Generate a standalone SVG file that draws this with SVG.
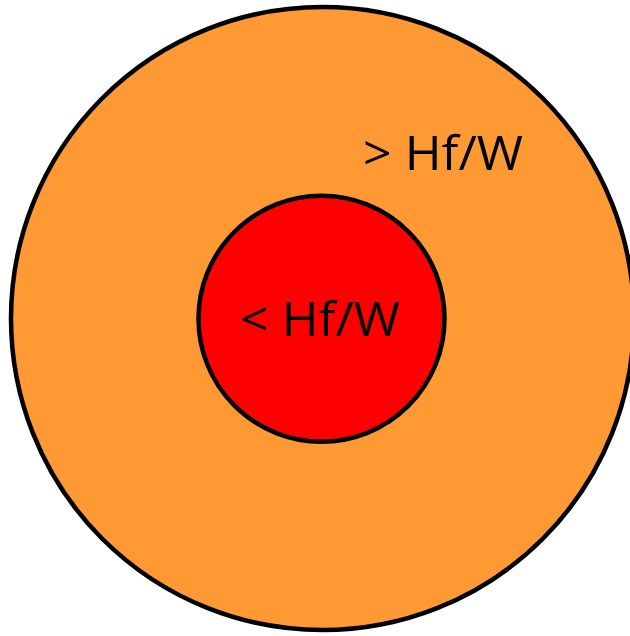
<svg xmlns="http://www.w3.org/2000/svg" width="630" height="636" viewBox="0 0 630 636">
<style>
.c{stroke:#000;stroke-width:4.5}
.t{font-family:"Open Sans","Liberation Sans",sans-serif;font-size:48px;fill:#000}
</style>
<rect width="630" height="636" fill="#fff"/>
<g id="outer">
<circle class="c" cx="322.5" cy="318.5" r="311.5" fill="#FF9933"/>
<text class="t" x="363" y="170" textLength="160" lengthAdjust="spacingAndGlyphs">&gt; Hf/W</text>
</g>
<g id="inner">
<circle class="c" cx="321.5" cy="318.7" r="123" fill="#FF0000"/>
<text class="t" x="240" y="336" textLength="160" lengthAdjust="spacingAndGlyphs">&lt; Hf/W</text>
</g>
</svg>
